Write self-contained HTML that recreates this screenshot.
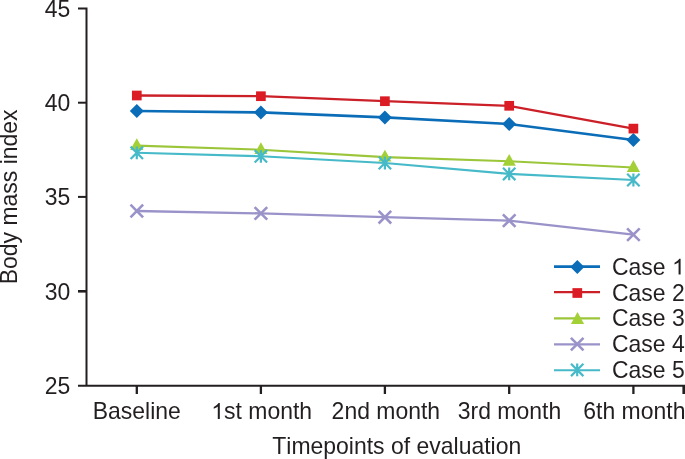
<!DOCTYPE html>
<html><head><meta charset="utf-8"><title>Chart</title>
<style>
html,body{margin:0;padding:0;background:#fff;}
body{width:685px;height:459px;overflow:hidden;}
svg{display:block;will-change:transform;opacity:0.999;}
text{font-family:"Liberation Sans",sans-serif;fill:#231f20;font-kerning:none;white-space:pre;}
</style></head><body>
<svg width="685" height="459" viewBox="0 0 685 459">
<rect width="685" height="459" fill="#fff"/>

<g stroke="#231f20" stroke-width="2" fill="none">
<path d="M78,8.4H86.5V385.8"/>
<path d="M78,385.8H686"/>
<path d="M78,102.7H86.5" stroke-width="2"/>
<path d="M78,196.9H86.5" stroke-width="2"/>
<path d="M78,291.3H86.5" stroke-width="2.6"/>
<path d="M136.8,385.8V394.0" stroke-width="2.3"/>
<path d="M260.9,385.8V394.0" stroke-width="2.3"/>
<path d="M384.9,385.8V394.0" stroke-width="2.3"/>
<path d="M509.2,385.8V394.0" stroke-width="2.3"/>
<path d="M633.4,385.8V394.0" stroke-width="2.3"/>
<path d="M683.8,385.8V394.0" stroke-width="2.8"/>
</g>
<polyline points="136.8,111 260.9,112.4 384.9,117.4 509.2,124 633.4,140" fill="none" stroke="#0b6db7" stroke-width="2.7"/>
<path d="M129.8,111L136.8,104L143.8,111L136.8,118Z" fill="#0b6db7"/>
<path d="M253.9,112.4L260.9,105.4L267.9,112.4L260.9,119.4Z" fill="#0b6db7"/>
<path d="M377.9,117.4L384.9,110.4L391.9,117.4L384.9,124.4Z" fill="#0b6db7"/>
<path d="M502.2,124L509.2,117L516.2,124L509.2,131Z" fill="#0b6db7"/>
<path d="M626.4,140L633.4,133L640.4,140L633.4,147Z" fill="#0b6db7"/>
<polyline points="136.8,95.5 260.9,96.2 384.9,101.2 509.2,105.8 633.4,128.6" fill="none" stroke="#cc2029" stroke-width="2.35"/>
<rect x="131.95" y="90.65" width="9.7" height="9.7" fill="#dc1c24"/>
<rect x="256.05" y="91.35" width="9.7" height="9.7" fill="#dc1c24"/>
<rect x="380.05" y="96.35" width="9.7" height="9.7" fill="#dc1c24"/>
<rect x="504.35" y="100.95" width="9.7" height="9.7" fill="#dc1c24"/>
<rect x="628.55" y="123.75" width="9.7" height="9.7" fill="#dc1c24"/>
<polyline points="136.8,145.6 260.9,149.7 384.9,157.1 509.2,161.3 633.4,167.5" fill="none" stroke="#9cc63a" stroke-width="2.1"/>
<path d="M136.8,138.2L143.4,150L130.2,150Z" fill="#a3d037"/>
<path d="M260.9,142.3L267.5,154.1L254.3,154.1Z" fill="#a3d037"/>
<path d="M384.9,149.7L391.5,161.5L378.3,161.5Z" fill="#a3d037"/>
<path d="M509.2,153.9L515.8,165.7L502.6,165.7Z" fill="#a3d037"/>
<path d="M633.4,160.1L640,171.9L626.8,171.9Z" fill="#a3d037"/>
<polyline points="136.8,211 260.9,213.4 384.9,217.2 509.2,220.6 633.4,234.6" fill="none" stroke="#9a93c9" stroke-width="2.3"/>
<path d="M130.5,204.7L143.1,217.3M130.5,217.3L143.1,204.7" stroke="#9a93c9" stroke-width="2.6" fill="none"/>
<path d="M254.6,207.1L267.2,219.7M254.6,219.7L267.2,207.1" stroke="#9a93c9" stroke-width="2.6" fill="none"/>
<path d="M378.6,210.9L391.2,223.5M378.6,223.5L391.2,210.9" stroke="#9a93c9" stroke-width="2.6" fill="none"/>
<path d="M502.9,214.3L515.5,226.9M502.9,226.9L515.5,214.3" stroke="#9a93c9" stroke-width="2.6" fill="none"/>
<path d="M627.1,228.3L639.7,240.9M627.1,240.9L639.7,228.3" stroke="#9a93c9" stroke-width="2.6" fill="none"/>
<polyline points="136.8,152.8 260.9,156.3 384.9,163.0 509.2,173.9 633.4,180" fill="none" stroke="#46bac8" stroke-width="2.1"/>
<path d="M130.6,146.6L143,159M130.6,159L143,146.6M136.8,146.4L136.8,159.2" stroke="#46bac8" stroke-width="2.2" fill="none"/>
<path d="M254.7,150.1L267.1,162.5M254.7,162.5L267.1,150.1M260.9,149.9L260.9,162.7" stroke="#46bac8" stroke-width="2.2" fill="none"/>
<path d="M378.7,156.8L391.1,169.2M378.7,169.2L391.1,156.8M384.9,156.6L384.9,169.4" stroke="#46bac8" stroke-width="2.2" fill="none"/>
<path d="M503,167.7L515.4,180.1M503,180.1L515.4,167.7M509.2,167.5L509.2,180.3" stroke="#46bac8" stroke-width="2.2" fill="none"/>
<path d="M627.2,173.8L639.6,186.2M627.2,186.2L639.6,173.8M633.4,173.6L633.4,186.4" stroke="#46bac8" stroke-width="2.2" fill="none"/>
<path d="M554,266.6H600" stroke="#0b6db7" stroke-width="2.7"/>
<path d="M570.3,266.9L577.3,259.9L584.3,266.9L577.3,273.9Z" fill="#0b6db7"/>
<path d="M554,292.1H600" stroke="#cc2029" stroke-width="2.35"/>
<rect x="572.45" y="288.15" width="9.7" height="9.7" fill="#dc1c24"/>
<path d="M554,318.4H600" stroke="#9cc63a" stroke-width="2.1"/>
<path d="M577.5,312.1L584.1,323.9L570.9,323.9Z" fill="#a3d037"/>
<path d="M554,344.4H600" stroke="#9a93c9" stroke-width="2.3"/>
<path d="M570.9,337.8L583.5,350.4M570.9,350.4L583.5,337.8" stroke="#9a93c9" stroke-width="2.6" fill="none"/>
<path d="M554,370.3H600" stroke="#46bac8" stroke-width="2.1"/>
<path d="M571,363.7L583.4,376.1M571,376.1L583.4,363.7M577.2,363.5L577.2,376.3" stroke="#46bac8" stroke-width="2.2" fill="none"/>
<text transform="translate(612,274.6) scale(0.9779,1)" font-size="23.5">C</text><text transform="translate(628.6,274.6) scale(0.9905,1)" font-size="23.2">ase </text><path transform="translate(672.03,274.6) scale(0.01122,-0.01084)" fill="#231f20" d="M763 0L583 0L583 1147Q518 1085 412.5 1023Q307 961 223 930L223 1104Q374 1175 487 1276Q600 1377 647 1472L763 1472Z"/>
<text transform="translate(612,300.5) scale(0.9779,1)" font-size="23.5">C</text><text transform="translate(628.6,300.5) scale(0.9905,1)" font-size="23.2">ase </text><text transform="translate(672.03,300.5) scale(0.9779,1)" font-size="23.5">2</text>
<text transform="translate(612,326.4) scale(0.9779,1)" font-size="23.5">C</text><text transform="translate(628.6,326.4) scale(0.9905,1)" font-size="23.2">ase </text><text transform="translate(672.03,326.4) scale(0.9779,1)" font-size="23.5">3</text>
<text transform="translate(612,352.3) scale(0.9779,1)" font-size="23.5">C</text><text transform="translate(628.6,352.3) scale(0.9905,1)" font-size="23.2">ase </text><text transform="translate(672.03,352.3) scale(0.9779,1)" font-size="23.5">4</text>
<text transform="translate(612,378.1) scale(0.9779,1)" font-size="23.5">C</text><text transform="translate(628.6,378.1) scale(0.9905,1)" font-size="23.2">ase </text><text transform="translate(672.03,378.1) scale(0.9779,1)" font-size="23.5">5</text>
<text transform="translate(44.84,16.6) scale(0.9779,1)" font-size="23.5">45</text>
<text transform="translate(44.84,110.9) scale(0.9779,1)" font-size="23.5">40</text>
<text transform="translate(44.84,205.1) scale(0.9779,1)" font-size="23.5">35</text>
<text transform="translate(44.84,299.5) scale(0.9779,1)" font-size="23.5">30</text>
<text transform="translate(44.84,394) scale(0.9779,1)" font-size="23.5">25</text>
<text transform="translate(92.73,418.9) scale(0.9779,1)" font-size="23.5">B</text><text transform="translate(108.05,418.9) scale(0.9905,1)" font-size="23.2">aseline</text>
<path transform="translate(211.25,418.9) scale(0.01122,-0.01084)" fill="#231f20" d="M763 0L583 0L583 1147Q518 1085 412.5 1023Q307 961 223 930L223 1104Q374 1175 487 1276Q600 1377 647 1472L763 1472Z"/><text transform="translate(224.03,418.9) scale(0.9905,1)" font-size="23.2">st month</text>
<text transform="translate(331.6,418.9) scale(0.9779,1)" font-size="23.5">2</text><text transform="translate(344.38,418.9) scale(0.9905,1)" font-size="23.2">nd month</text>
<text transform="translate(457.77,418.9) scale(0.9779,1)" font-size="23.5">3</text><text transform="translate(470.55,418.9) scale(0.9905,1)" font-size="23.2">rd month</text>
<text transform="translate(583.3,418.9) scale(0.9779,1)" font-size="23.5">6</text><text transform="translate(596.08,418.9) scale(0.9905,1)" font-size="23.2">th month</text>
<text transform="translate(272.26,454.3) scale(0.9779,1)" font-size="23.5">T</text><text transform="translate(286.29,454.3) scale(0.9905,1)" font-size="23.2">imepoints of evaluation</text>
<g transform="translate(16.5,196.8) rotate(-90)"><text transform="translate(-87.49,0) scale(0.9779,1)" font-size="23.5">B</text><text transform="translate(-72.17,0) scale(0.9905,1)" font-size="23.2">ody mass index</text></g>
</svg></body></html>
